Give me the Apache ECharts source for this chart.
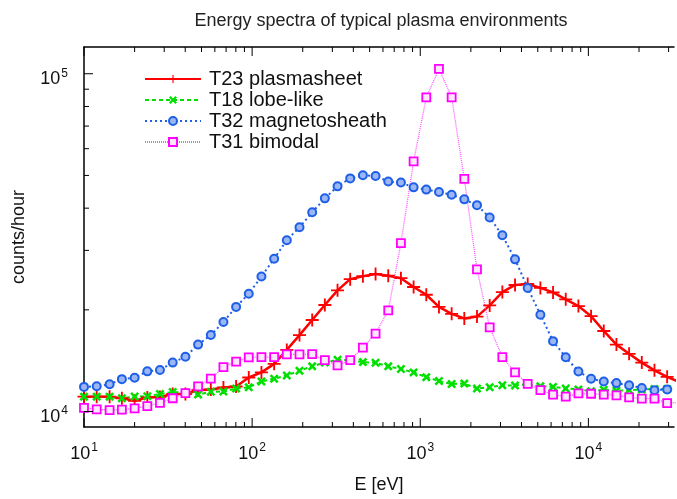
<!DOCTYPE html>
<html>
<head>
<meta charset="utf-8">
<script src="https://cdn.jsdelivr.net/npm/echarts@6/dist/echarts.min.js"></script>
<style>
  html, body { margin: 0; padding: 0; background: #fff; }
  #chart { width: 677px; height: 499px; }
</style>
</head>
<body>
<div id="chart"></div>
<script>
// energy steps (eV)
const energy = [10.0, 11.9, 14.2, 16.8, 20.0, 23.8, 28.3, 33.7, 40.1, 47.7, 56.8, 67.5,
  80.3, 95.5, 113.6, 135.2, 160.8, 191.3, 227.6, 270.7, 322.1, 383.1, 455.9, 542.2,
  645.1, 767.4, 912.9, 1086, 1292, 1537, 1828, 2175, 2588, 3078, 3662, 4355,
  5182, 6164, 7333, 8724, 10375, 12344, 14684, 17467, 20779, 24717, 29403, 34985];

// counts/hour
const t23 = [11070, 11070, 11070, 10950, 10760, 11010, 11050, 11270, 11270, 11570, 11630, 11780,
  11860, 12610, 13060, 13840, 15220, 16840, 18660, 20680, 22850, 24660, 25160, 25550,
  25240, 24820, 23380, 22170, 20410, 19460, 18870, 19100, 20620, 22580, 23700, 23860,
  23230, 22520, 21490, 20520, 19160, 17320, 15780, 14820, 13960, 13240, 12670, 12200];
const t18 = [11070, 11070, 11070, 10950, 11080, 11100, 11270, 11420, 11370, 11230, 11440, 11460,
  11700, 11800, 12270, 12510, 12780, 13210, 13610, 13960, 14230, 14170, 14010, 13940,
  13610, 13360, 13060, 12640, 12310, 12060, 12100, 11700, 11800, 11960, 11940, 12070,
  11880, 11830, 11700, 11630, 11490, 11600, 11530, 11570, 11630, 11660, 11660, 11650];
const t32 = [11830, 11880, 12040, 12470, 12590, 13150, 13280, 13960, 14530, 15780, 16840, 18410,
  20410, 22330, 25100, 28350, 32160, 35130, 38900, 42770, 46410, 49000, 50050, 49800,
  47970, 47650, 46100, 45400, 44650, 43830, 42480, 40830, 37530, 33240, 28220, 23230,
  19350, 16160, 14470, 13140, 12510, 12270, 12140, 11960, 11740, 11570, 11630, 11600];
const t31 = [10250, 10150, 10100, 10130, 10220, 10380, 10615, 10950, 11340, 11870, 12510, 13540,
  14050, 14470, 14500, 14500, 14760, 14760, 14790, 14190, 13700, 14190, 15470, 17010,
  19920, 31520, 55030, 85110, 103370, 85110, 48840, 26340, 17760, 14500, 13060, 12080,
  11570, 11230, 11070, 11320, 11290, 11230, 11170, 11010, 10920, 10920, 10590, 10650];

const seriesNames = ['T23 plasmasheet', 'T18 lobe-like', 'T32 magnetosheath', 'T31 bimodal'];

// tick positions
const majorX = [10, 100, 1000, 10000];
const minorX = [20, 30, 40, 50, 60, 70, 80, 90, 200, 300, 400, 500, 600, 700, 800, 900,
  2000, 3000, 4000, 5000, 6000, 7000, 8000, 9000, 20000, 30000];
const majorY = [10000, 100000];
const minorY = [20000, 30000, 40000, 50000, 60000, 70000, 80000, 90000];

const font = 'Liberation Sans, Arial, Helvetica, sans-serif';
const plus = 'path://M6,0H8V6H14V8H8V14H6V8H0V6H6Z';
const cross = 'path://M0,2L2,0L5,3L8,0L10,2L7,5L10,8L8,10L5,7L2,10L0,8L3,5Z';

function pairs(vals) {
  return energy.map((e, i) => [e, vals[i]]);
}

function powLabel(v) {
  const l = Math.log10(v);
  const e = Math.round(l);
  if (Math.abs(l - e) > 1e-6) return '';
  return '{b|10}{s|' + e + '}';
}

const labelRich = {
  b: { fontSize: 18, fontFamily: font, color: '#111', verticalAlign: 'bottom' },
  s: { fontSize: 12, fontFamily: font, color: '#111', verticalAlign: 'bottom', padding: [0, 0, 9, 1] }
};

function tickSeries(values, axis, len) {
  return {
    type: 'custom',
    silent: true,
    z: 5,
    data: values.map(v => (axis === 'x' ? [v, 10000] : [10, v])),
    renderItem: function (params, api) {
      const cs = params.coordSys;
      const p = api.coord([api.value(0), api.value(1)]);
      const style = { stroke: '#000', lineWidth: 1 };
      if (axis === 'x') {
        return {
          type: 'group',
          children: [
            { type: 'line', shape: { x1: p[0], y1: cs.y + cs.height, x2: p[0], y2: cs.y + cs.height - len }, style: style },
            { type: 'line', shape: { x1: p[0], y1: cs.y, x2: p[0], y2: cs.y + len }, style: style }
          ]
        };
      }
      return { type: 'line', shape: { x1: cs.x, y1: p[1], x2: cs.x + len, y2: p[1] }, style: style };
    }
  };
}

const myChart = echarts.init(document.getElementById('chart'));
myChart.setOption({
  animation: false,
  backgroundColor: '#fff',
  title: {
    text: 'Energy spectra of typical plasma environments',
    left: 376,
    top: 7,
    textAlign: 'center',
    textStyle: { fontSize: 18, fontWeight: 'normal', color: '#222', fontFamily: font }
  },
  legend: {
    data: seriesNames,
    orient: 'vertical',
    left: 139,
    top: 64,
    itemWidth: 56,
    itemHeight: 10,
    itemGap: 1,
    textStyle: { fontSize: 20, lineHeight: 20, color: '#111', fontFamily: font, padding: [0, 0, 0, 3] }
  },
  grid: { left: 84, right: 0, top: 47, bottom: 61 },
  xAxis: [
    {
      type: 'log',
      logBase: 10,
      min: 10,
      max: 32300,
      position: 'bottom',
      name: 'E [eV]',
      nameLocation: 'middle',
      nameGap: 49,
      nameTextStyle: { fontSize: 18, color: '#111', fontFamily: font },
      axisLine: { lineStyle: { color: '#000', width: 1.5 } },
      axisTick: { show: false },
      splitLine: { show: false },
      axisLabel: { margin: 15, formatter: powLabel, rich: labelRich }
    },
    {
      type: 'log',
      logBase: 10,
      min: 10,
      max: 32300,
      position: 'top',
      axisLine: { lineStyle: { color: '#000', width: 1.5 } },
      axisTick: { show: false },
      axisLabel: { show: false },
      splitLine: { show: false }
    }
  ],
  yAxis: {
    type: 'log',
    logBase: 10,
    min: 9000,
    max: 120000,
    name: 'counts/hour',
    nameLocation: 'middle',
    nameRotate: 90,
    nameGap: 56,
    nameTextStyle: { fontSize: 18, color: '#111', fontFamily: font },
    axisLine: { lineStyle: { color: '#000', width: 1.5 } },
    axisTick: { show: false },
    splitLine: { show: false },
    axisLabel: { margin: 16, padding: [8, 0, 0, 0], formatter: powLabel, rich: labelRich }
  },
  series: [
    {
      name: seriesNames[0],
      type: 'line',
      data: pairs(t23),
      symbol: plus,
      symbolSize: 13,
      lineStyle: { color: '#ff0000', width: 2.5 },
      itemStyle: { color: '#ff0000' }
    },
    {
      name: seriesNames[1],
      type: 'line',
      data: pairs(t18),
      symbol: cross,
      symbolSize: 9,
      lineStyle: { color: '#00e000', width: 2, type: [4, 3] },
      itemStyle: { color: '#00e000' }
    },
    {
      name: seriesNames[2],
      type: 'line',
      data: pairs(t32),
      symbol: 'circle',
      symbolSize: 8,
      lineStyle: { color: '#1f5fe8', width: 2, type: [2, 3] },
      itemStyle: { color: '#9ab6f3', borderColor: '#1f5fe8', borderWidth: 2 }
    },
    {
      name: seriesNames[3],
      type: 'line',
      data: pairs(t31),
      symbol: 'rect',
      symbolSize: 8,
      lineStyle: { color: '#ff55ff', width: 1.3, type: [1, 1] },
      itemStyle: { color: '#ffe6ff', borderColor: '#ff00ff', borderWidth: 1.8 }
    },
    tickSeries(majorX, 'x', 9),
    tickSeries(minorX, 'x', 5),
    tickSeries(majorY, 'y', 9),
    tickSeries(minorY, 'y', 5)
  ]
});
</script>
</body>
</html>
